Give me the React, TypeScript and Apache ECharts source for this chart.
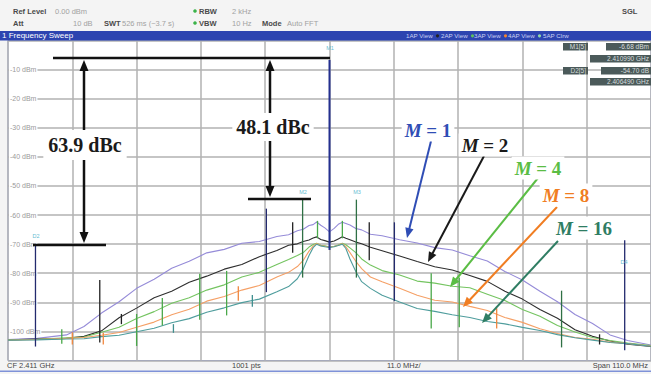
import React, { useEffect, useRef } from 'react';
import * as echarts from 'echarts';

// Frequency offset from CF 2.411 GHz, MHz (span 110 MHz, 11 MHz/div)
const freqOffsetsMHz = [-55, -50, -45, -42, -39, -36, -33, -30, -27, -24, -21, -18, -15, -12, -9, -7, -5.5, -4.5, -3.5, -2.8, -2.2, -1.5, -0.8, 0, 0.8, 1.5, 2.2, 2.8, 3.5, 4.5, 5.5, 7, 9, 12, 15, 18, 21, 24, 27, 30, 33, 36, 39, 42, 45, 48, 51, 55];

const traceM1 = [-102.8, -102.4, -101.2, -98.3, -93.7, -89.8, -85.2, -82.1, -78.3, -75.9, -73.0, -71.8, -69.7, -69.1, -67.4, -66.8, -65.4, -64.9, -63.6, -63.3, -62.4, -63.5, -64.4, -65.8, -64.6, -63.2, -62.5, -62.9, -63.4, -64.6, -65.1, -66.6, -67.1, -68.5, -69.6, -71.2, -72.0, -74.0, -75.8, -79.4, -82.3, -86.2, -89.8, -94.2, -97.3, -101.2, -103.1, -104.7];
const traceM2 = [-102.9, -102.6, -102.4, -101.7, -99.8, -95.3, -92.0, -88.4, -86.2, -83.1, -81.0, -78.6, -77.0, -74.3, -72.2, -70.4, -69.9, -69.1, -68.6, -67.9, -67.5, -68.4, -68.8, -69.3, -68.9, -68.2, -67.5, -68.0, -68.5, -69.3, -69.9, -71.1, -72.3, -74.1, -76.0, -77.8, -78.9, -80.8, -82.8, -86.2, -88.9, -92.5, -95.5, -99.4, -101.7, -103.3, -104.4, -105.2];
const traceM4 = [-102.9, -102.7, -102.2, -101.9, -100.3, -98.6, -95.6, -93.2, -90.3, -88.4, -85.8, -84.0, -81.3, -79.7, -77.0, -75.3, -73.9, -72.9, -71.0, -70.1, -69.7, -70.4, -70.6, -71.0, -70.7, -70.3, -69.7, -70.2, -71.3, -72.9, -75.1, -77.2, -79.1, -80.6, -82.7, -83.4, -84.5, -85.0, -87.2, -89.4, -92.5, -94.8, -98.0, -100.2, -102.1, -103.1, -104.0, -104.9];
const traceM8 = [-103.0, -102.8, -102.4, -102.1, -101.3, -100.4, -98.6, -96.8, -94.3, -92.4, -89.6, -88.0, -85.8, -84.2, -81.3, -79.7, -77.7, -75.6, -72.4, -70.7, -69.8, -70.5, -70.7, -71.0, -70.8, -70.4, -69.8, -70.9, -72.9, -75.9, -78.4, -81.3, -82.9, -85.2, -87.6, -89.3, -89.9, -91.4, -92.8, -95.2, -96.9, -99.1, -100.7, -102.1, -102.7, -103.7, -104.2, -105.0];
const traceM16 = [-103.0, -102.9, -102.6, -102.5, -101.8, -101.3, -100.1, -98.9, -97.0, -95.6, -93.4, -91.9, -90.1, -88.9, -86.4, -84.6, -81.9, -78.6, -73.9, -71.2, -70.0, -70.6, -70.9, -71.1, -70.9, -70.5, -70.0, -71.5, -75.1, -79.4, -82.9, -85.2, -87.6, -89.9, -92.1, -93.1, -94.3, -95.2, -96.6, -97.4, -98.6, -99.7, -101.1, -102.2, -103.0, -103.8, -104.2, -105.1];

const traceLabels = ['M = 1', 'M = 2', 'M = 4', 'M = 8', 'M = 16'];
const traceColors = ['#958bd8', '#2e2e2e', '#74c460', '#f5a066', '#4f9d9d'];
const labelColors = ['#2f4db5', '#1a1a1a', '#5bbd45', '#f07d22', '#2f7d63'];

// spurs: [offset MHz, top dBm, bottom dBm, kind]
const spurs: [number, number, number, string][] = [
  [-50.3, -70.6, -105.2, 'navy'],
  [-45.8, -99.3, -104.2, 'green'],
  [-44.0, -100.3, -104.5, 'orange'],
  [-39.3, -82.3, -103.8, 'black'],
  [-38.7, -100.5, -104.5, 'orange'],
  [-35.6, -94.0, -97.5, 'black'],
  [-33.0, -94.0, -105.0, 'green'],
  [-28.6, -88.5, -98.0, 'green'],
  [-26.7, -97.5, -100.5, 'teal'],
  [-22.2, -80.2, -96.0, 'green'],
  [-17.6, -79.2, -94.5, 'green'],
  [-15.6, -84.5, -89.5, 'orange'],
  [-13.2, -87.5, -91.5, 'teal'],
  [-10.8, -57.8, -86.5, 'navy'],
  [-6.3, -62.5, -73.0, 'black'],
  [-4.6, -54.7, -81.5, 'dkgreen'],
  [-2.05, -62.0, -68.0, 'green'],
  [0, -6.68, -72.0, 'blue'],
  [2.2, -62.0, -68.0, 'green'],
  [4.6, -54.7, -81.5, 'dkgreen'],
  [6.8, -62.5, -75.5, 'black'],
  [11.1, -62.5, -89.5, 'navy'],
  [17.4, -80.0, -99.0, 'green'],
  [22.2, -81.5, -98.6, 'green'],
  [28.6, -92.0, -99.0, 'orange'],
  [39.7, -86.0, -105.5, 'dkgreen'],
  [46.2, -101.0, -104.5, 'black'],
  [50.5, -68.7, -106.5, 'navy'],
];
const spurColorMap: Record<string, string> = {
  navy: '#232a6e', green: '#4aa84a', orange: '#f0873f', teal: '#3f8f8f',
  black: '#222222', dkgreen: '#2f7045', blue: '#24308f',
};

const headerTexts: [number, number, string, boolean][] = [
  [13, 11, 'Ref Level', true], [55, 11, '0.00 dBm', false],
  [199, 11, 'RBW', true], [232, 11, '2 kHz', false],
  [622, 11, 'SGL', true],
  [13, 23, 'Att', true], [73, 23, '10 dB', false],
  [104, 23, 'SWT', true], [122, 23, '526 ms (~3.7 s)', false],
  [199, 23, 'VBW', true], [232, 23, '10 Hz', false],
  [262, 23, 'Mode', true], [287, 23, 'Auto FFT', false],
];
const viewTexts: [number, string, string][] = [
  [406, '1AP View', '#222222'], [441, '2AP View', '#5ec05e'], [474, '3AP View', '#f08030'],
  [508, '4AP View', '#8fd6a8'], [543, '5AP Clrw', ''],
];
const footerTexts: [number, string, string][] = [
  [7, 'CF 2.411 GHz', 'left'], [232, '1001 pts', 'left'], [387, '11.0 MHz/', 'left'], [648, 'Span 110.0 MHz', 'right'],
];
const markerTable: [number, number, number, string][] = [
  [563, 43, 25, 'M1[5]'], [606, 43, 45, '-6.68 dBm'],
  [590, 55, 61, '2.410990 GHz'],
  [563, 67, 25, 'D2[5]'], [601, 67, 50, '-54.70 dB'],
  [590, 78, 61, '2.406490 GHz'],
];
const markerTags: [number, number, string][] = [
  [330, 48, 'M1'], [303, 192, 'M2'], [357, 192, 'M3'], [36, 236, 'D2'], [624, 262, 'D4'],
];

const SANS = '"Liberation Sans", Arial, sans-serif';
const SERIF = '"Liberation Serif", "Times New Roman", serif';

function arrowEls(x1: number, y1: number, x2: number, y2: number, color: string, width: number, headLen = 11, headHalf = 4.5) {
  const dx = x2 - x1, dy = y2 - y1;
  const len = Math.hypot(dx, dy);
  const ux = dx / len, uy = dy / len;
  const bx = x2 - ux * headLen, by = y2 - uy * headLen;
  const nx = -uy, ny = ux;
  return [
    { type: 'line', z: 100, shape: { x1, y1, x2: bx + ux, y2: by + uy }, style: { stroke: color, lineWidth: width } },
    { type: 'polygon', z: 100, shape: { points: [[x2, y2], [bx + nx * headHalf, by + ny * headHalf], [bx - nx * headHalf, by - ny * headHalf]] }, style: { fill: color } },
  ];
}

function hline(x1: number, x2: number, y: number, color = '#111', w = 2.5) {
  return { type: 'line', z: 100, shape: { x1, y1: y, x2, y2: y }, style: { stroke: color, lineWidth: w } };
}

function mLabel(cx: number, cy: number, idx: number) {
  const color = labelColors[idx];
  const num = traceLabels[idx].replace('M', '');
  const base = { fontSize: 19, fontFamily: SERIF, fontWeight: 'bold', fill: color };
  return {
    type: 'text', z: 101, x: cx, y: cy,
    style: {
      text: '{i|M}{n|' + num + '}',
      align: 'center', verticalAlign: 'middle',
      backgroundColor: '#ffffff', padding: [2, 3],
      rich: { i: { ...base, fontStyle: 'italic' }, n: { ...base } },
    },
  };
}

function dbcLabel(cx: number, cy: number, text: string, pad: number[]) {
  return {
    type: 'text', z: 101, x: cx, y: cy,
    style: {
      text, align: 'center', verticalAlign: 'middle', fill: '#1a1a1a',
      fontSize: 20, fontFamily: SERIF, fontWeight: 'bold',
      backgroundColor: '#ffffff', padding: pad,
    },
  };
}

function buildGraphic() {
  const g: any[] = [];
  // header bar
  g.push({ type: 'rect', z: 50, shape: { x: 0, y: 31, width: 651, height: 9.5 }, style: { fill: '#2d44b0' } });
  g.push({ type: 'text', z: 51, x: 2, y: 35.5, style: { text: '1 Frequency Sweep', fill: '#ffffff', fontSize: 8, fontFamily: SANS, verticalAlign: 'middle' } });
  viewTexts.forEach(([x, t, dot]) => {
    g.push({ type: 'text', z: 51, x, y: 35.8, style: { text: t, fill: '#c9d1f2', fontSize: 6.2, fontFamily: SANS, verticalAlign: 'middle' } });
    if (dot) g.push({ type: 'circle', z: 51, shape: { cx: x + 31.5, cy: 35.8, r: 1.6 }, style: { fill: dot } });
  });
  headerTexts.forEach(([x, y, t, bold]) => {
    g.push({ type: 'text', z: 51, x, y, style: { text: t, fill: bold ? '#4a4a4a' : '#a2a2a2', fontSize: 7.5, fontWeight: bold ? 'bold' : 'normal', fontFamily: SANS, verticalAlign: 'middle' } });
  });
  g.push({ type: 'circle', z: 51, shape: { cx: 195, cy: 11, r: 1.8 }, style: { fill: '#3cb34a' } });
  g.push({ type: 'circle', z: 51, shape: { cx: 195, cy: 23, r: 1.8 }, style: { fill: '#3cb34a' } });
  // footer
  g.push({ type: 'rect', z: 50, shape: { x: 0, y: 370.5, width: 651, height: 1.5 }, style: { fill: '#7f92d8' } });
  footerTexts.forEach(([x, t, al]) => {
    g.push({ type: 'text', z: 51, x, y: 365.8, style: { text: t, fill: '#444444', fontSize: 7.5, fontFamily: SANS, align: al, verticalAlign: 'middle' } });
  });
  // marker table
  markerTable.forEach(([x, y, w, t]) => {
    g.push({ type: 'rect', z: 60, shape: { x, y, width: w, height: 7.5 }, style: { fill: '#4b5a5a' } });
    g.push({ type: 'text', z: 61, x: x + w - 2, y: y + 3.9, style: { text: t, fill: '#d6dddd', fontSize: 6.5, fontFamily: SANS, align: 'right', verticalAlign: 'middle' } });
  });
  // marker tags
  markerTags.forEach(([x, y, t]) => {
    g.push({ type: 'text', z: 60, x, y, style: { text: t, fill: '#68bcd2', fontSize: 5.5, fontFamily: SANS, align: 'center', verticalAlign: 'middle' } });
  });

  // dBc annotations
  g.push(hline(53, 330, 58));
  g.push(hline(33, 106, 245));
  g.push(...arrowEls(84, 150, 84, 60, '#111', 2.5));
  g.push(...arrowEls(84, 150, 84, 243, '#111', 2.5));
  g.push(dbcLabel(85, 145, '63.9 dBc', [5, 5]));

  g.push(hline(248, 311, 199));
  g.push(...arrowEls(270, 130, 270, 60, '#111', 2.5));
  g.push(...arrowEls(270, 130, 270, 197, '#111', 2.5));
  g.push(dbcLabel(273, 127, '48.1 dBc', [4, 4]));

  // M labels and arrows
  const arrows: [number, number, number, number][] = [
    [431, 141, 407, 238],
    [484, 156, 428, 262],
    [538, 178, 450, 287],
    [557, 207, 463, 307],
    [558, 241, 482, 323],
  ];
  const labelPos: [number, number][] = [[428, 130], [485, 145], [538, 168], [566, 195], [584, 228]];
  arrows.forEach(([x1, y1, x2, y2], i) => g.push(...arrowEls(x1, y1, x2, y2, labelColors[i], 2, 10, 4.2)));
  labelPos.forEach(([x, y], i) => g.push(mLabel(x, y, i)));
  return g;
}

function buildOption() {
  const lineSeries = [traceM1, traceM2, traceM4, traceM8, traceM16].map((vals, i) => ({
    type: 'line',
    name: traceLabels[i],
    data: freqOffsetsMHz.map((f, k) => [f, vals[k]]),
    showSymbol: false,
    symbol: 'none',
    lineStyle: { color: traceColors[i], width: 1.1 },
    z: 2,
    silent: true,
  }));
  const spurSeries = {
    type: 'custom',
    z: 3,
    silent: true,
    data: spurs.map((s) => [s[0], s[1], s[2]]),
    renderItem: (params: any, api: any) => {
      const x = api.value(0), t = api.value(1), b = api.value(2);
      const p1 = api.coord([x, t]);
      const p2 = api.coord([x, b]);
      const kind = spurs[params.dataIndex][3];
      const color = spurColorMap[kind];
      return { type: 'line', shape: { x1: p1[0], y1: p1[1], x2: p2[0], y2: p2[1] }, style: { stroke: color, lineWidth: kind === 'blue' ? 2 : 1.3 } };
    },
  };
  const split = { show: true, lineStyle: { color: '#b2b2b2', width: 1.5 } };
  return {
    animation: false,
    backgroundColor: '#f4f4f4',
    grid: { left: 8, width: 644, top: 40.5, bottom: 13.5, show: true, backgroundColor: '#ffffff', borderColor: '#8494d6', borderWidth: 1 },
    xAxis: {
      type: 'value', min: -55, max: 55, interval: 11,
      axisLabel: { show: false }, axisLine: { show: false }, axisTick: { show: false },
      splitLine: split,
    },
    yAxis: {
      type: 'value', min: -110, max: 0, interval: 10,
      axisLine: { show: false }, axisTick: { show: false },
      splitLine: split,
      axisLabel: {
        inside: true, margin: 1, fontSize: 7, color: '#9a9a9a', fontFamily: SANS,
        backgroundColor: '#ffffff', padding: [0, 1],
        formatter: (v: number) => (v === 0 || v === -110 ? '' : `${v} dBm`),
      },
    },
    series: [...lineSeries, spurSeries],
    graphic: buildGraphic(),
  };
}

export default function App() {
  const ref = useRef<HTMLDivElement>(null);
  useEffect(() => {
    const chart = echarts.init(ref.current!, undefined, { renderer: 'svg' });
    chart.setOption(buildOption() as any);
    return () => chart.dispose();
  }, []);
  return <div ref={ref} style={{ position: 'fixed', left: 0, top: 0, width: 651, height: 374 }} />;
}
